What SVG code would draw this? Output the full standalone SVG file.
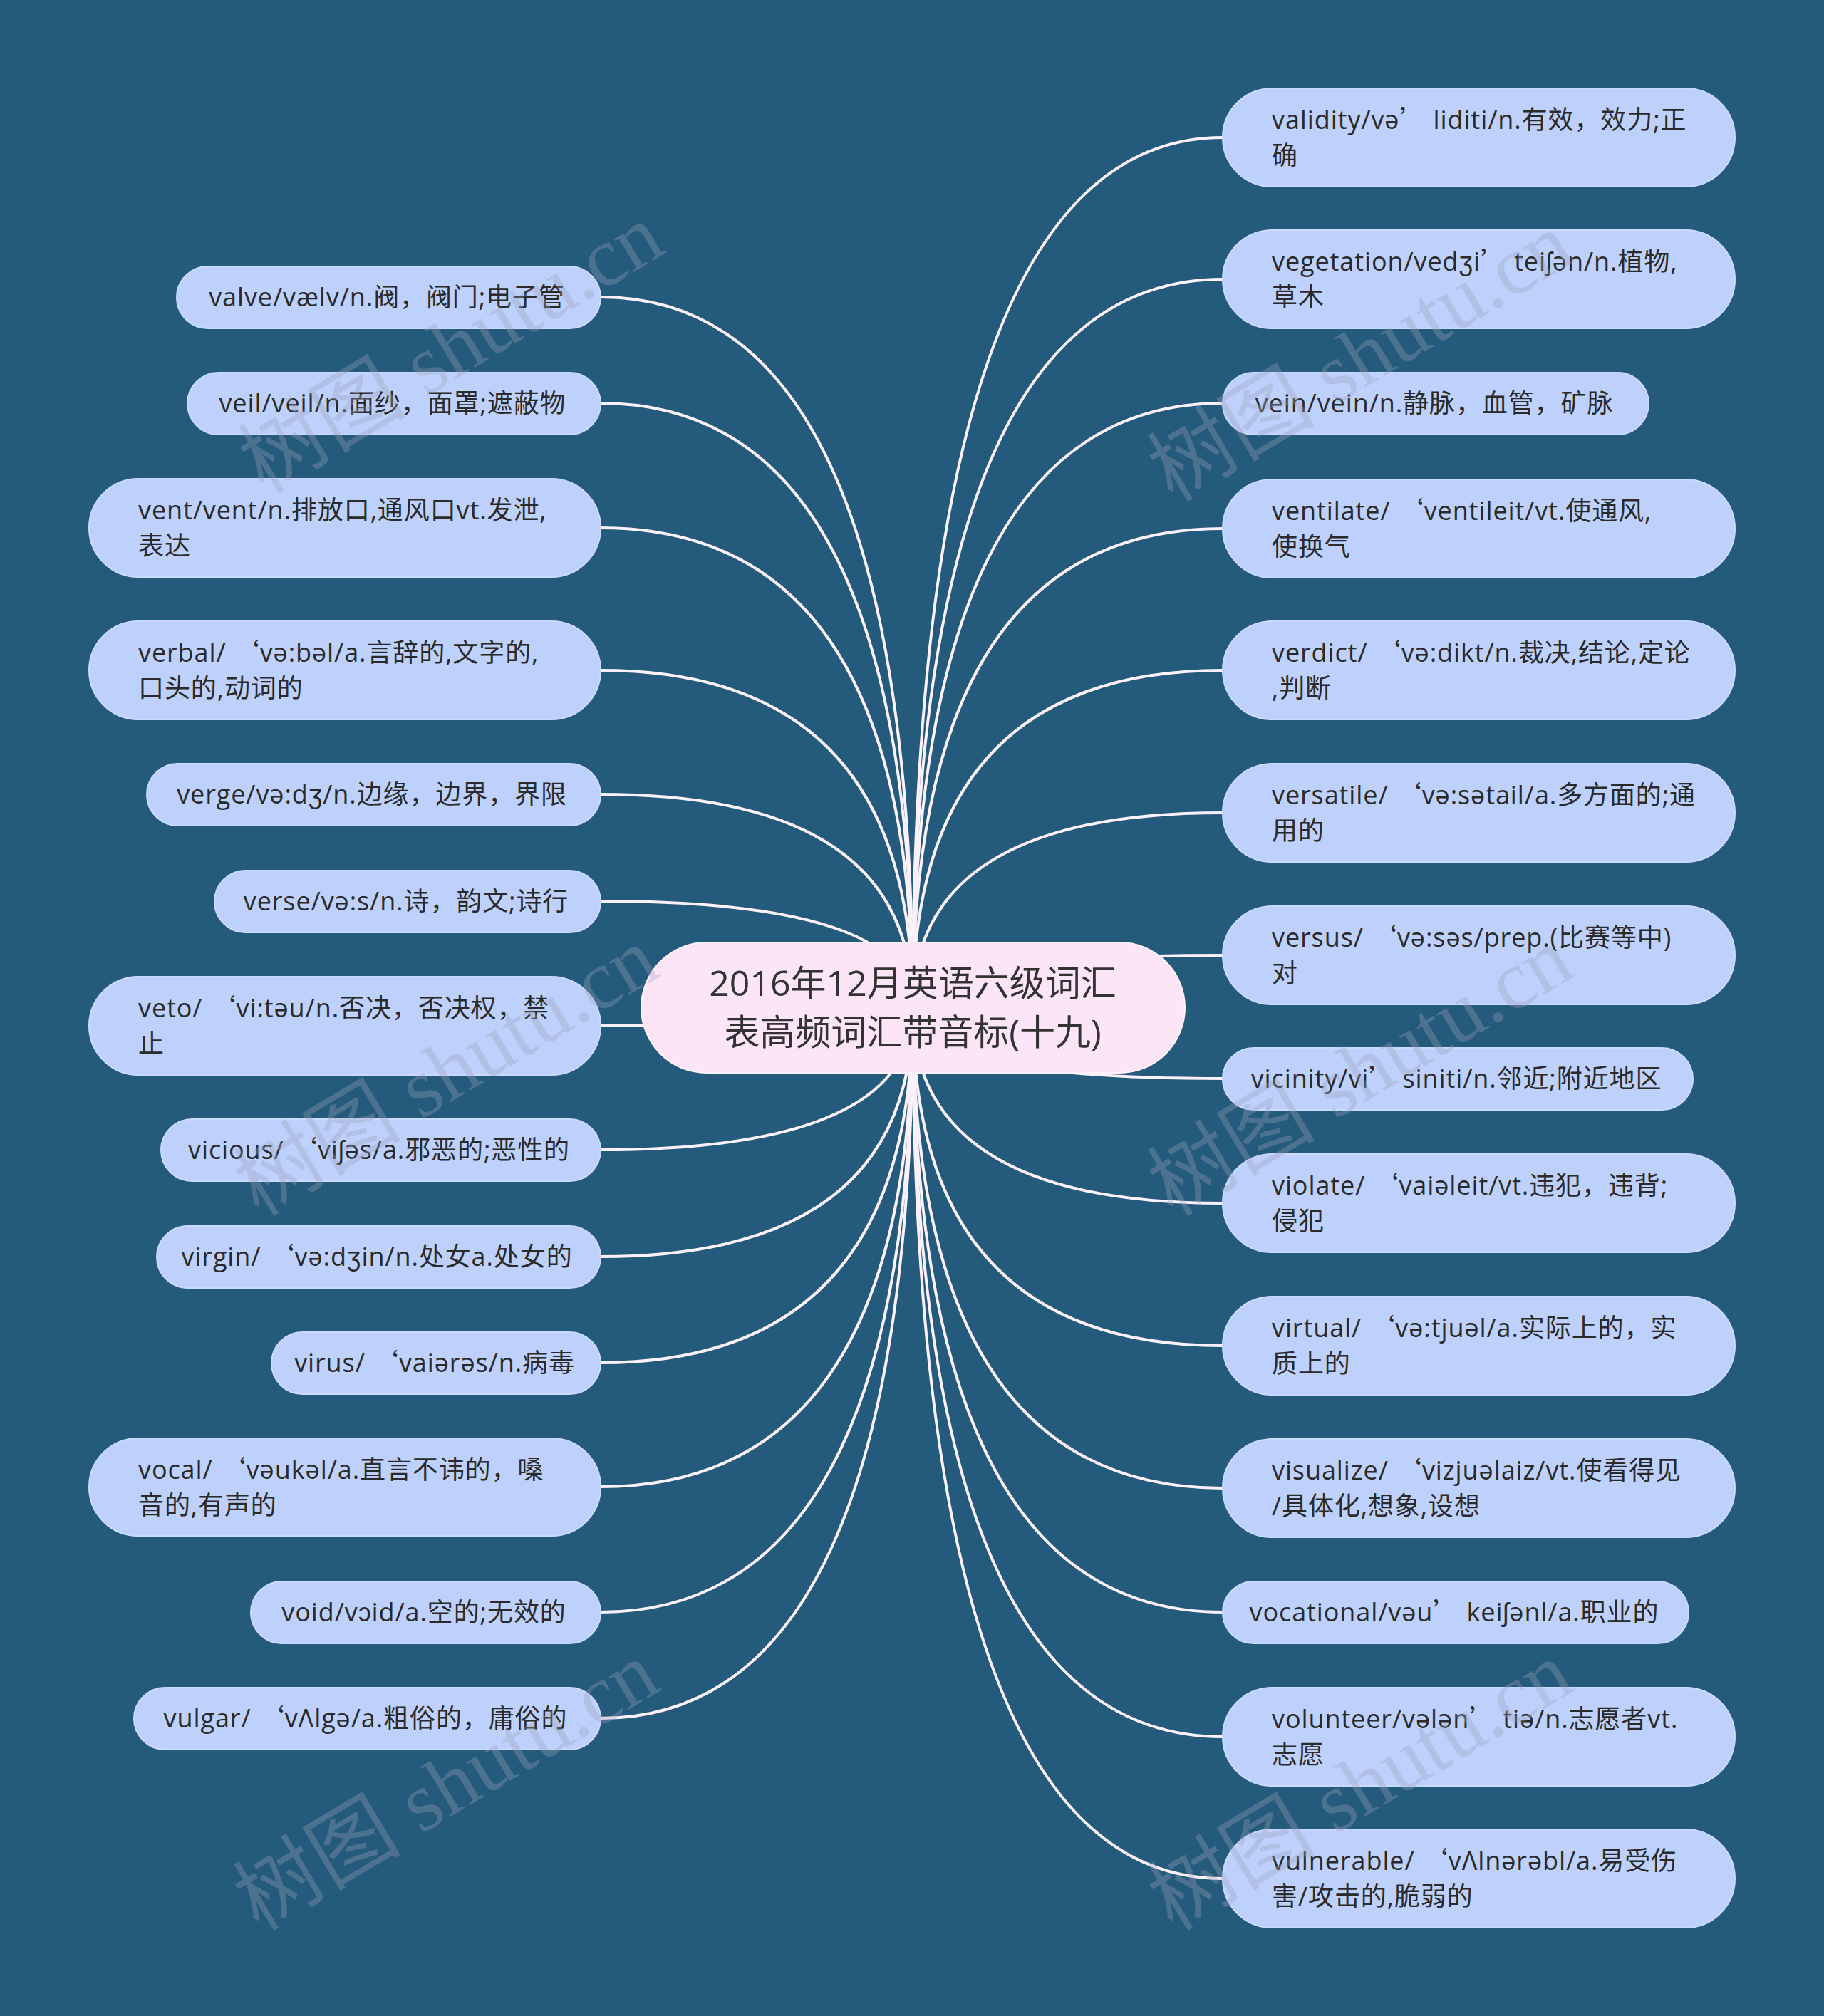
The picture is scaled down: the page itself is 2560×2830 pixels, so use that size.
<svg xmlns="http://www.w3.org/2000/svg" width="2560" height="2830" viewBox="0 0 2560 2830">
<defs>
<style>
.bg{fill:#245a7c}
.link{fill:none;stroke:#fbf1fa;stroke-width:4;stroke-linecap:round}
.pill{fill:#bdd1fc;stroke:#cbdafd;stroke-width:2}
.root{fill:#fde5f8;stroke:#fff0fb;stroke-width:2}
.t{font-family:"Open Sans","Noto Sans CJK SC",sans-serif;font-size:36px;letter-spacing:0.9px;fill:#2a2a2a}
.c{text-anchor:middle}
.rt{font-family:"Open Sans","Noto Sans CJK SC",sans-serif;font-size:50px;fill:#333333;text-anchor:middle}
.q{font-family:"Noto Sans CJK SC",sans-serif}
.wm{font-family:"Liberation Serif","Noto Sans CJK SC",serif;font-size:118px;fill:#9aa0b6;fill-opacity:0.34}
</style>
</defs>
<rect class="bg" x="0" y="0" width="2560" height="2830"/>

<g id="connectors">
<path class="link" d="M1281 1415 Q1281 417 843 417"/>
<path class="link" d="M1281 1415 Q1281 566 843 566"/>
<path class="link" d="M1281 1415 Q1281 741 843 741"/>
<path class="link" d="M1281 1415 Q1281 941 843 941"/>
<path class="link" d="M1281 1415 Q1281 1115 843 1115"/>
<path class="link" d="M1281 1415 Q1281 1265 843 1265"/>
<path class="link" d="M1281 1415 Q1281 1440 843 1440"/>
<path class="link" d="M1281 1415 Q1281 1614 843 1614"/>
<path class="link" d="M1281 1415 Q1281 1764 843 1764"/>
<path class="link" d="M1281 1415 Q1281 1913 843 1913"/>
<path class="link" d="M1281 1415 Q1281 2087 843 2087"/>
<path class="link" d="M1281 1415 Q1281 2263 843 2263"/>
<path class="link" d="M1281 1415 Q1281 2412 843 2412"/>
<path class="link" d="M1281 1415 Q1281 193 1716 193"/>
<path class="link" d="M1281 1415 Q1281 392 1716 392"/>
<path class="link" d="M1281 1415 Q1281 566 1716 566"/>
<path class="link" d="M1281 1415 Q1281 742 1716 742"/>
<path class="link" d="M1281 1415 Q1281 941 1716 941"/>
<path class="link" d="M1281 1415 Q1281 1141 1716 1141"/>
<path class="link" d="M1281 1415 Q1281 1341 1716 1341"/>
<path class="link" d="M1281 1415 Q1281 1514 1716 1514"/>
<path class="link" d="M1281 1415 Q1281 1689 1716 1689"/>
<path class="link" d="M1281 1415 Q1281 1889 1716 1889"/>
<path class="link" d="M1281 1415 Q1281 2089 1716 2089"/>
<path class="link" d="M1281 1415 Q1281 2263 1716 2263"/>
<path class="link" d="M1281 1415 Q1281 2438 1716 2438"/>
<path class="link" d="M1281 1415 Q1281 2637 1716 2637"/>
</g>

<g id="root">
<rect class="root" x="900" y="1323" width="763" height="183" rx="91.5"/>
<text class="rt" x="1281" y="1398">2016年12月英语六级词汇</text>
<text class="rt" x="1281" y="1467">表高频词汇带音标(十九)</text>
</g>

<g id="n-valve"><rect class="pill" x="248" y="374" width="595" height="87" rx="43.5"/>
<text class="t c" x="543" y="430">valve/vælv/n.阀，阀门;电子管</text></g>
<g id="n-veil"><rect class="pill" x="263" y="523" width="580" height="87" rx="43.5"/>
<text class="t c" x="551" y="579">veil/veil/n.面纱，面罩;遮蔽物</text></g>
<g id="n-vent"><rect class="pill" x="125" y="672" width="718" height="138" rx="69"/>
<text class="t" x="194" y="729">vent/vent/n.排放口,通风口vt.发泄,<tspan x="194" dy="50">表达</tspan></text></g>
<g id="n-verbal"><rect class="pill" x="125" y="872" width="718" height="138" rx="69"/>
<text class="t" x="194" y="929">verbal/ <tspan class="q">‘</tspan>və:bəl/a.言辞的,文字的,<tspan x="194" dy="50">口头的,动词的</tspan></text></g>
<g id="n-verge"><rect class="pill" x="206" y="1072" width="637" height="87" rx="43.5"/>
<text class="t c" x="522" y="1128">verge/və:dʒ/n.边缘，边界，界限</text></g>
<g id="n-verse"><rect class="pill" x="301" y="1222" width="542" height="87" rx="43.5"/>
<text class="t c" x="570" y="1278">verse/və:s/n.诗，韵文;诗行</text></g>
<g id="n-veto"><rect class="pill" x="125" y="1371" width="718" height="138" rx="69"/>
<text class="t" x="194" y="1428">veto/ <tspan class="q">‘</tspan>vi:təu/n.否决，否决权，禁<tspan x="194" dy="50">止</tspan></text></g>
<g id="n-vicious"><rect class="pill" x="226" y="1571" width="617" height="87" rx="43.5"/>
<text class="t c" x="532" y="1627">vicious/ <tspan class="q">‘</tspan>viʃəs/a.邪恶的;恶性的</text></g>
<g id="n-virgin"><rect class="pill" x="220" y="1721" width="623" height="87" rx="43.5"/>
<text class="t c" x="529" y="1777">virgin/ <tspan class="q">‘</tspan>və:dʒin/n.处女a.处女的</text></g>
<g id="n-virus"><rect class="pill" x="381" y="1870" width="462" height="87" rx="43.5"/>
<text class="t c" x="610" y="1926">virus/ <tspan class="q">‘</tspan>vaiərəs/n.病毒</text></g>
<g id="n-vocal"><rect class="pill" x="125" y="2019" width="718" height="137" rx="68.5"/>
<text class="t" x="194" y="2076">vocal/ <tspan class="q">‘</tspan>vəukəl/a.直言不讳的，嗓<tspan x="194" dy="50">音的,有声的</tspan></text></g>
<g id="n-void"><rect class="pill" x="352" y="2220" width="491" height="87" rx="43.5"/>
<text class="t c" x="595" y="2276">void/vɔid/a.空的;无效的</text></g>
<g id="n-vulgar"><rect class="pill" x="188" y="2369" width="655" height="87" rx="43.5"/>
<text class="t c" x="513" y="2425">vulgar/ <tspan class="q">‘</tspan>vΛlgə/a.粗俗的，庸俗的</text></g>

<g id="n-validity"><rect class="pill" x="1716" y="124" width="719" height="138" rx="69"/>
<text class="t" x="1785" y="181">validity/və<tspan class="q">’</tspan> liditi/n.有效，效力;正<tspan x="1785" dy="50">确</tspan></text></g>
<g id="n-vegetation"><rect class="pill" x="1716" y="323" width="719" height="138" rx="69"/>
<text class="t" x="1785" y="380">vegetation/vedʒi<tspan class="q">’</tspan> teiʃən/n.植物,<tspan x="1785" dy="50">草木</tspan></text></g>
<g id="n-vein"><rect class="pill" x="1716" y="523" width="598" height="87" rx="43.5"/>
<text class="t c" x="2013" y="579">vein/vein/n.静脉，血管，矿脉</text></g>
<g id="n-ventilate"><rect class="pill" x="1716" y="673" width="719" height="138" rx="69"/>
<text class="t" x="1785" y="730">ventilate/ <tspan class="q">‘</tspan>ventileit/vt.使通风,<tspan x="1785" dy="50">使换气</tspan></text></g>
<g id="n-verdict"><rect class="pill" x="1716" y="872" width="719" height="138" rx="69"/>
<text class="t" x="1785" y="929">verdict/ <tspan class="q">‘</tspan>və:dikt/n.裁决,结论,定论<tspan x="1785" dy="50">,判断</tspan></text></g>
<g id="n-versatile"><rect class="pill" x="1716" y="1072" width="719" height="138" rx="69"/>
<text class="t" x="1785" y="1129">versatile/ <tspan class="q">‘</tspan>və:sətail/a.多方面的;通<tspan x="1785" dy="50">用的</tspan></text></g>
<g id="n-versus"><rect class="pill" x="1716" y="1272" width="719" height="138" rx="69"/>
<text class="t" x="1785" y="1329">versus/ <tspan class="q">‘</tspan>və:səs/prep.(比赛等中)<tspan x="1785" dy="50">对</tspan></text></g>
<g id="n-vicinity"><rect class="pill" x="1716" y="1471" width="660" height="87" rx="43.5"/>
<text class="t c" x="2044" y="1527">vicinity/vi<tspan class="q">’</tspan> siniti/n.邻近;附近地区</text></g>
<g id="n-violate"><rect class="pill" x="1716" y="1620" width="719" height="138" rx="69"/>
<text class="t" x="1785" y="1677">violate/ <tspan class="q">‘</tspan>vaiəleit/vt.违犯，违背;<tspan x="1785" dy="50">侵犯</tspan></text></g>
<g id="n-virtual"><rect class="pill" x="1716" y="1820" width="719" height="138" rx="69"/>
<text class="t" x="1785" y="1877">virtual/ <tspan class="q">‘</tspan>və:tjuəl/a.实际上的，实<tspan x="1785" dy="50">质上的</tspan></text></g>
<g id="n-visualize"><rect class="pill" x="1716" y="2020" width="719" height="138" rx="69"/>
<text class="t" x="1785" y="2077">visualize/ <tspan class="q">‘</tspan>vizjuəlaiz/vt.使看得见<tspan x="1785" dy="50">/具体化,想象,设想</tspan></text></g>
<g id="n-vocational"><rect class="pill" x="1716" y="2220" width="654" height="87" rx="43.5"/>
<text class="t c" x="2041" y="2276">vocational/vəu<tspan class="q">’</tspan> keiʃənl/a.职业的</text></g>
<g id="n-volunteer"><rect class="pill" x="1716" y="2369" width="719" height="138" rx="69"/>
<text class="t" x="1785" y="2426">volunteer/vələn<tspan class="q">’</tspan> tiə/n.志愿者vt.<tspan x="1785" dy="50">志愿</tspan></text></g>
<g id="n-vulnerable"><rect class="pill" x="1716" y="2568" width="719" height="138" rx="69"/>
<text class="t" x="1785" y="2625">vulnerable/ <tspan class="q">‘</tspan>vΛlnərəbl/a.易受伤<tspan x="1785" dy="50">害/攻击的,脆弱的</tspan></text></g>

<g id="watermarks">
<text class="wm" x="370" y="694" transform="rotate(-31 370 694)">树图 shutu.cn</text>
<text class="wm" x="1646" y="706" transform="rotate(-31 1646 706)">树图 shutu.cn</text>
<text class="wm" x="363" y="1709" transform="rotate(-31 363 1709)">树图 shutu.cn</text>
<text class="wm" x="1646" y="1709" transform="rotate(-31 1646 1709)">树图 shutu.cn</text>
<text class="wm" x="363" y="2712" transform="rotate(-31 363 2712)">树图 shutu.cn</text>
<text class="wm" x="1646" y="2712" transform="rotate(-31 1646 2712)">树图 shutu.cn</text>
</g>
</svg>
